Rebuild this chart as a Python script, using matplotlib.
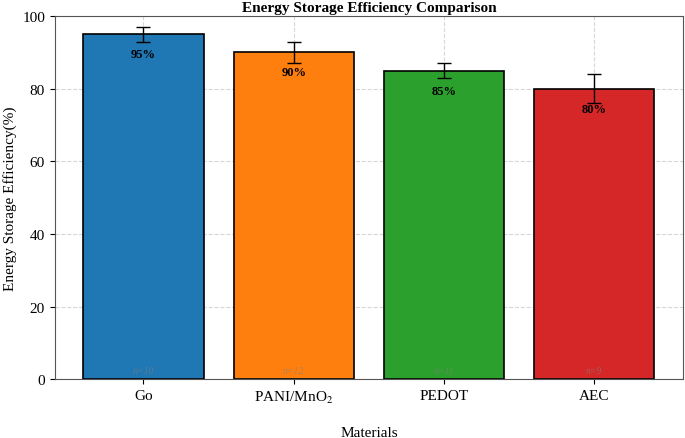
import numpy as np
import matplotlib
matplotlib.use("Agg")
import matplotlib.pyplot as plt

plt.rcParams['font.family'] = ['Liberation Serif', 'DejaVu Serif']
plt.rcParams['mathtext.fontset'] = 'stix'

materiales = ['Go', 'PANI/MnO$_2$', 'PEDOT', 'AEC']
eficiencia = [95, 90, 85, 80]
errores = [2, 3, 2, 4]
muestras = [10, 12, 11, 9]
colores = ['#1f77b4', '#ff7f0e', '#2ca02c', '#d62728']

fig = plt.figure(figsize=(6.85, 4.39), dpi=100)
ax = fig.add_axes([0.080, 0.134, 0.917, 0.827])

x = np.arange(len(materiales))
barras = ax.bar(x, eficiencia, width=0.8, color=colores, edgecolor='black',
                linewidth=1.2, yerr=errores, capsize=5,
                error_kw=dict(ecolor='black', elinewidth=1, capthick=1))

for i, b in enumerate(barras):
    ax.text(b.get_x() + b.get_width() / 2, eficiencia[i] - 5.5, f'{eficiencia[i]}%',
            ha='center', va='center', fontsize=9, fontweight='bold')
    ax.text(b.get_x() + b.get_width() / 2, 2.5, f'n={muestras[i]}',
            ha='center', va='center', fontsize=7, style='italic',
            color='gray', alpha=0.6)

ax.set_ylim(0, 100)
ax.set_xticks(x)
ax.set_xticklabels(materiales, fontsize=11)
ax.tick_params(axis='y', labelsize=11)
ax.set_title('Energy Storage Efficiency Comparison', fontsize=11, fontweight='bold', pad=4)
ax.set_xlabel('Materials', fontsize=11, labelpad=15)
ax.set_ylabel('Energy Storage Efficiency(%)', fontsize=11)

ax.set_axisbelow(True)
ax.grid(True, linestyle='--', alpha=0.5)
for g in ax.get_xgridlines():
    g.set_zorder(3)

for s in ax.spines.values():
    s.set_color('#555555')

fig.savefig('out.png', dpi=100)
